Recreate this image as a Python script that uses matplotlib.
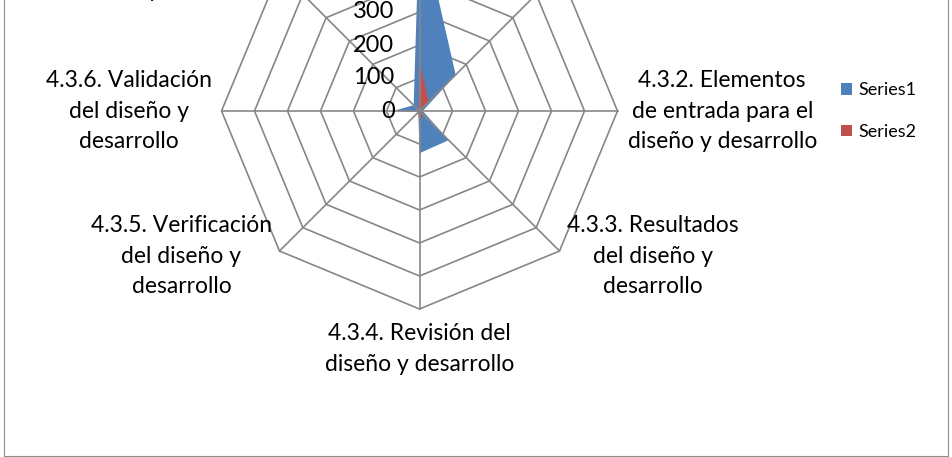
import numpy as np
import matplotlib
matplotlib.use("Agg")
import matplotlib.pyplot as plt
from matplotlib.patches import Rectangle, Patch

# ---------------- data ----------------
categories = [
    "4.3. Diseño y\ndesarrollo",
    "4.3.1. Planificación\ndel diseño y\ndesarrollo",
    "4.3.2. Elementos\nde entrada para el\ndiseño y desarrollo",
    "4.3.3. Resultados\ndel diseño y\ndesarrollo",
    "4.3.4. Revisión del\ndiseño y desarrollo",
    "4.3.5. Verificación\ndel diseño y\ndesarrollo",
    "4.3.6. Validación\ndel diseño y\ndesarrollo",
    "4.3.7. Control de los\ncambios del\ndiseño y desarrollo",
]
series1 = [590, 155, 10, 125, 128, 5, 80, 25]
series2 = [150, 40, 5, 15, 33, 5, 10, 5]
series_names = ["Series1", "Series2"]
r_ticks = [0, 100, 200, 300, 400, 500, 600]

# ---------------- style ----------------
FONT = "Lato"
plt.rcParams["font.family"] = [FONT, "DejaVu Sans"]
W, H, DPI = 952, 457, 100
colors = ["#4F81BD", "#C0504D"]
grid_color = "#878787"

fig = plt.figure(figsize=(W / DPI, H / DPI), dpi=DPI)

cx, cy, R = 419.5, 111.0, 198.0  # pixel centre (from top) and radius
ax = fig.add_axes([(cx - R) / W, (H - cy - R) / H, 2 * R / W, 2 * R / H],
                  projection="polar")
ax.set_theta_zero_location("N")
ax.set_theta_direction(-1)
ax.set_ylim(0, r_ticks[-1])
ax.grid(False)
ax.set_xticks([])
ax.set_yticks([])
ax.spines["polar"].set_visible(False)
ax.patch.set_visible(False)

n = len(categories)
theta = np.arange(n) * 2 * np.pi / n
theta_c = np.append(theta, theta[0])

# grid rings
for r in r_ticks[1:]:
    ax.plot(theta_c, [r] * (n + 1), color=grid_color, lw=1.2, clip_on=False, zorder=1)

# series
handles = []
for vals, col, name in zip([series1, series2], colors, series_names):
    v = np.append(vals, vals[0])
    ax.fill(theta_c, v, color=col, lw=0, zorder=2, clip_on=False)
    handles.append(Patch(facecolor=col, edgecolor="none", label=name))

# spokes drawn over the fills (as Excel draws the axes on top)
for t in theta:
    ax.plot([t, t], [0, r_ticks[-1]], color=grid_color, lw=1.2, clip_on=False, zorder=3)

# radial tick labels
for r in r_ticks:
    ax.annotate(str(r), xy=(0, r), xytext=(-25, 0), textcoords="offset pixels",
                ha="right", va="center", fontsize=17, color="black",
                annotation_clip=False, zorder=4)

# category labels
label_pos = [("center", "bottom", 0, 8), ("left", "center", 7.5, 11),
             ("left", "center", 10, 0), ("left", "center", 7.5, -5),
             ("center", "center", 0, -40), ("right", "center", -7.5, -5),
             ("right", "center", -9.5, 0), ("right", "center", -7.5, 11)]
for t, lab, (ha, va, dx, dy) in zip(theta, categories, label_pos):
    ax.annotate(lab, xy=(t, r_ticks[-1]), xytext=(dx, dy), textcoords="offset pixels",
                ha=ha, va=va, multialignment="center", fontsize=16.5,
                linespacing=1.53, annotation_clip=False)

# legend
fig.legend(handles=handles, loc="center left", frameon=False,
           bbox_to_anchor=(834 / W, 1 - 111 / H), fontsize=13,
           handlelength=0.6, handleheight=0.6, handletextpad=0.35,
           labelspacing=1.4, borderaxespad=0)

# chart frame
fig.patches.append(Rectangle((3.5 / W, 1.5 / H), 944 / W, 1.2, transform=fig.transFigure,
                             fill=False, edgecolor="#8c8c8c", lw=0.8))

fig.savefig("out.png", dpi=DPI)
